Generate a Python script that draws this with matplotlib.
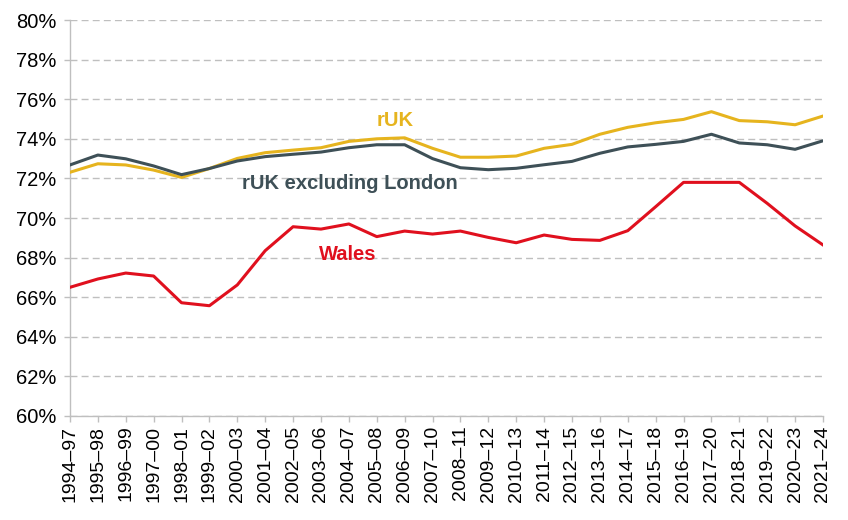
import matplotlib
matplotlib.use("Agg")
import matplotlib.pyplot as plt
from matplotlib.ticker import FuncFormatter

# ── Data ─────────────────────────────────────────────────────────────────
years = [f"{y}–{str(y + 3)[-2:]}" for y in range(1994, 2022)]

ruk = [72.31, 72.74, 72.68, 72.42, 72.05, 72.50, 73.01, 73.30, 73.43, 73.55,
       73.87, 74.00, 74.05, 73.52, 73.07, 73.07, 73.13, 73.52, 73.72, 74.23,
       74.58, 74.81, 74.98, 75.37, 74.92, 74.86, 74.71, 75.15]

ruk_ex_london = [72.68, 73.18, 72.99, 72.63, 72.19, 72.50, 72.88, 73.10, 73.22,
                 73.33, 73.55, 73.70, 73.70, 73.00, 72.54, 72.44, 72.51, 72.69,
                 72.86, 73.27, 73.59, 73.72, 73.87, 74.23, 73.79, 73.70, 73.47,
                 73.90]

wales = [66.50, 66.92, 67.22, 67.07, 65.72, 65.57, 66.62, 68.35, 69.56, 69.44,
         69.70, 69.06, 69.34, 69.19, 69.34, 69.02, 68.75, 69.14, 68.92, 68.87,
         69.36, 70.57, 71.80, 71.80, 71.80, 70.74, 69.60, 68.64]

# ── Style ────────────────────────────────────────────────────────────────
GOLD = "#E6B41E"
SLATE = "#3E5057"
RED = "#E0101E"
AXIS_GREY = "#BFBFBF"

plt.rcParams["font.family"] = ["Liberation Sans", "DejaVu Sans"]

fig = plt.figure(figsize=(8.48, 5.2), dpi=100)
ax = fig.add_axes([0.0825, 0.2, 0.888, 0.7615])

x = list(range(len(years)))
ax.plot(x, ruk, color=GOLD, lw=2.2, zorder=3)
ax.plot(x, ruk_ex_london, color=SLATE, lw=2.2, zorder=3)
ax.plot(x, wales, color=RED, lw=2.2, zorder=3)

ax.set_xlim(0, len(years) - 1)
ax.set_ylim(60, 80)
ax.set_yticks(range(60, 81, 2))
ax.yaxis.set_major_formatter(FuncFormatter(lambda v, _: f"{v:.0f}%"))
ax.set_xticks(x)
ax.set_xticklabels(years, rotation=90)

ax.grid(axis="y", color=AXIS_GREY, ls=(0, (5, 3)), lw=1)
ax.set_axisbelow(True)
for side in ("top", "right"):
    ax.spines[side].set_visible(False)
for side in ("left", "bottom"):
    ax.spines[side].set_color(AXIS_GREY)
    ax.spines[side].set_linewidth(1)
ax.tick_params(axis="both", colors=AXIS_GREY, labelcolor="#000000",
               length=4, width=1)
ax.tick_params(axis="x", labelsize=14, pad=3)
ax.tick_params(axis="y", labelsize=14.5, pad=6)

# ── Series labels ────────────────────────────────────────────────────────
ax.text(11.65, 74.95, "rUK", color=GOLD, fontsize=14.5, fontweight="bold",
        ha="center", va="center")
ax.text(10.05, 71.72, "rUK excluding London", color=SLATE, fontsize=14.5,
        fontweight="bold", ha="center", va="center")
ax.text(9.97, 68.18, "Wales", color=RED, fontsize=14.5, fontweight="bold",
        ha="center", va="center")

fig.savefig("out.png", dpi=100)
